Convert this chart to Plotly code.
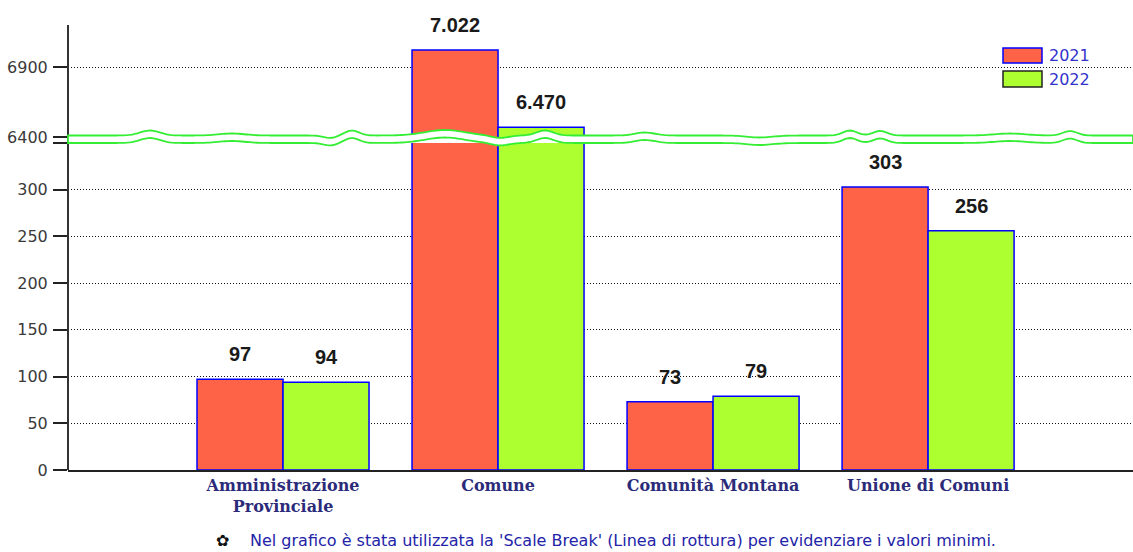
import numpy as np
import plotly.graph_objects as go

# ---------------- data ----------------
categories = ["Amministrazione<br>Provinciale", "Comune", "Comunità Montana", "Unione di Comuni"]
series_names = ["2021", "2022"]
values_2021 = [97, 7022, 73, 303]
values_2022 = [94, 6470, 79, 256]
lower_ticks = [0, 50, 100, 150, 200, 250, 300, 350]
lower_tick_labels = ["0", "50", "100", "150", "200", "250", "300", ""]
upper_ticks = [6400, 6900]
upper_tick_labels = ["6400", "6900"]
footnote = "Nel grafico è stata utilizzata la 'Scale Break' (Linea di rottura) per evidenziare i valori minimi."

# ---------------- styling ----------------
W, H = 1133, 552
L, R, T, B = 68, 0, 25, 82
PW, PH = W - L - R, H - T - B
RED, GREEN = "#FF6347", "#ADFF2F"
BORDER = "#0000FF"

def px_x(p):
    return (p - L) / PW

def px_y(p):
    return (H - B - p) / PH

lower_dom = [0, px_y(143)]
upper_dom = [px_y(137), 1]

fig = go.Figure()
xs = list(range(len(categories)))
for vals, color, off in [(values_2021, RED, -0.4), (values_2022, GREEN, 0.0)]:
    for ax in ["y", "y2"]:
        fig.add_trace(go.Bar(
            x=xs, y=vals, yaxis=ax, xaxis="x", width=0.4, offset=off,
            marker=dict(color=color, line=dict(color=BORDER, width=1.5)),
            showlegend=False, hoverinfo="skip",
        ))

# value labels
annotations = []
for vals, dx in [(values_2021, -0.2), (values_2022, 0.2)]:
    for i, v in enumerate(vals):
        annotations.append(dict(
            x=i + dx, y=v, xref="x", yref="y2" if v > 350 else "y",
            text=f"{v:,}".replace(",", "."), showarrow=False,
            yanchor="bottom", yshift=12,
            font=dict(family="Liberation Sans", size=20, color="#1a1a1a", weight="bold"),
        ))

# footnote
annotations.append(dict(x=px_x(222), y=px_y(551), xref="paper", yref="paper", text="✿",
                        showarrow=False, xanchor="center", yanchor="bottom", borderpad=0,
                        font=dict(family="DejaVu Sans", size=16, color="#111111")))
annotations.append(dict(x=px_x(249), y=px_y(551), xref="paper", yref="paper", text=footnote,
                        showarrow=False, xanchor="left", yanchor="bottom", borderpad=0,
                        font=dict(family="DejaVu Sans", size=16, color="#2323a8")))

# custom legend
shapes = []
leg = [(series_names[0], RED, BORDER, 48, 63), (series_names[1], GREEN, "#222222", 71, 87)]
for name, fc, lc, y0, y1 in leg:
    shapes.append(dict(type="rect", xref="paper", yref="paper",
                       x0=px_x(1003), x1=px_x(1042), y0=px_y(y1), y1=px_y(y0),
                       fillcolor=fc, line=dict(color=lc, width=1.5), layer="above"))
    annotations.append(dict(x=px_x(1047), y=px_y((y0 + y1) / 2), xref="paper", yref="paper",
                            text=name, showarrow=False, xanchor="left", yanchor="middle",
                            font=dict(family="DejaVu Sans", size=16, color="#3333cc")))

# continuous y axis line
shapes.append(dict(type="line", xref="paper", yref="paper", x0=0, x1=0, y0=0, y1=1,
                   line=dict(color="#333333", width=2), layer="above"))

# scale-break wavy band (decoration)
bumps = [(150, -5, 14), (232, -2, 18), (330, 2.5, 9), (352, -5, 10), (445, -5.5, 28),
         (500, 2.5, 12), (545, -5, 12), (645, -3, 14), (760, 2, 18), (850, -5, 10),
         (880, -4.5, 10), (1010, -2, 22), (1070, -4.5, 10)]
xp = np.linspace(L, W, 400)
off = np.zeros_like(xp)
for c, a, w in bumps:
    off += a * np.exp(-((xp - c) / w) ** 2)
top = 135.5 + off
bot = 143 + off
pts = [f"{px_x(x):.5f},{px_y(y):.5f}" for x, y in zip(xp, top)]
pts += [f"{px_x(x):.5f},{px_y(y):.5f}" for x, y in zip(xp[::-1], bot[::-1])]
path = "M " + " L ".join(pts) + " Z"
shapes.append(dict(type="path", xref="paper", yref="paper", path=path,
                   fillcolor="white", line=dict(color="#33ee33", width=1.8), layer="above"))

tickfont = dict(family="DejaVu Sans", size=16, color="#3a3a3a")
grid = dict(showgrid=True, gridcolor="#111111", griddash="1px,2px", gridwidth=1,
            zeroline=False, showline=False, ticks="outside", ticklen=14, tickwidth=1.5,
            tickcolor="#222222", ticklabelstandoff=2, tickfont=tickfont)
fig.update_layout(
    width=W, height=H,
    margin=dict(l=L, r=R, t=T, b=B),
    paper_bgcolor="white", plot_bgcolor="white",
    barmode="overlay",
    showlegend=False,
    xaxis=dict(range=[-1.0, 3.953], tickvals=xs, ticktext=categories,
               showgrid=False, zeroline=False, showline=True, linecolor="#222222",
               linewidth=1.5, ticks="", fixedrange=True,
               tickfont=dict(family="DejaVu Serif", size=16, color="#2b2b7a", weight="bold")),
    yaxis=dict(domain=lower_dom, range=[0, 350], tickvals=lower_ticks, ticktext=lower_tick_labels, **grid),
    yaxis2=dict(domain=upper_dom, range=[6400, 7200], tickvals=upper_ticks, ticktext=upper_tick_labels,
                anchor="x", **grid),
    annotations=annotations,
    shapes=shapes,
)

fig.write_html("out.html")
